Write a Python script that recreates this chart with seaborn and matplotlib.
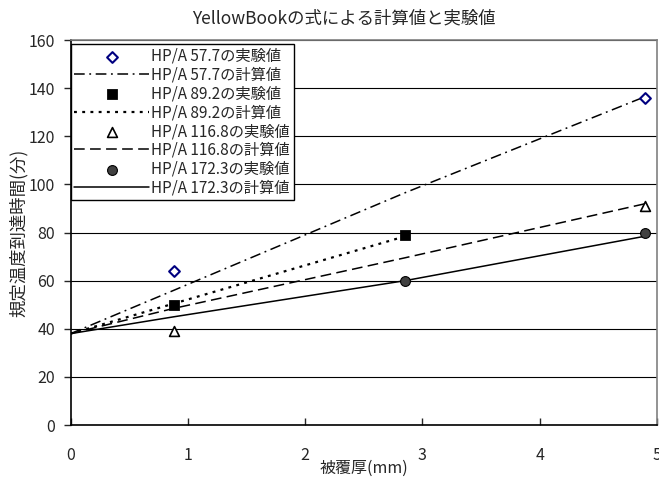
import matplotlib
matplotlib.use("Agg")
import matplotlib.pyplot as plt
import seaborn as sns

# measured values (thickness mm, minutes)
x_calc = [0, 0.88, 2.85, 4.9]
x_calc_892 = [0, 0.88, 2.8]

exp_577_x = [0.88, 4.9]
exp_577_y = [64, 136]
calc_577_y = [38, 56, 96.5, 136.5]

exp_892_x = [0.88, 2.85]
exp_892_y = [50, 79]
calc_892_y = [38, 50.5, 77.7]

exp_1168_x = [0.88, 4.9]
exp_1168_y = [39, 91]
calc_1168_y = [38, 48.5, 69.5, 92]

exp_1723_x = [2.85, 4.9]
exp_1723_y = [60, 80]
calc_1723_y = [38, 45, 60, 78.5]

labels = ["HP/A 57.7", "HP/A 89.2", "HP/A 116.8", "HP/A 172.3"]

sns.set_style("white")
plt.rcParams['font.family'] = ['Noto Sans CJK JP', 'DejaVu Sans']

fig = plt.figure(figsize=(6.59, 4.82), dpi=100)
ax = fig.add_axes([0.107, 0.118, 0.89, 0.799])

# calculated lines
sns.lineplot(x=x_calc, y=calc_577_y, ax=ax, color='black', lw=1.1,
             linestyle=(0, (7, 3, 1.2, 3)), label=labels[0] + "の計算値")
sns.lineplot(x=x_calc_892, y=calc_892_y, ax=ax, color='black', lw=1.6,
             linestyle=(0, (1.3, 2.4)), label=labels[1] + "の計算値")
sns.lineplot(x=x_calc, y=calc_1168_y, ax=ax, color='black', lw=1.1,
             linestyle=(0, (7, 3.5)), label=labels[2] + "の計算値")
sns.lineplot(x=x_calc, y=calc_1723_y, ax=ax, color='black', lw=1.1,
             linestyle='-', label=labels[3] + "の計算値")

# experimental points
sns.scatterplot(x=exp_577_x, y=exp_577_y, ax=ax, marker='D', s=30,
                facecolor='white', edgecolor='#000080', linewidth=1.5,
                label=labels[0] + "の実験値", zorder=5)
sns.scatterplot(x=exp_892_x, y=exp_892_y, ax=ax, marker='s', s=50,
                color='black', edgecolor='black',
                label=labels[1] + "の実験値", zorder=5)
sns.scatterplot(x=exp_1168_x, y=exp_1168_y, ax=ax, marker='^', s=50,
                facecolor='white', edgecolor='black', linewidth=1.2,
                label=labels[2] + "の実験値", zorder=5)
sns.scatterplot(x=exp_1723_x, y=exp_1723_y, ax=ax, marker='o', s=50,
                color='#404040', edgecolor='black', linewidth=0.8,
                label=labels[3] + "の実験値", zorder=5)

ax.set_xlim(0, 5)
ax.set_ylim(0, 160)
ax.set_xticks([0, 1, 2, 3, 4, 5])
ax.set_yticks(range(0, 161, 20))
ax.yaxis.grid(True, color='black', lw=0.8)
ax.set_axisbelow(True)

ax.tick_params(axis='y', direction='out', length=5, width=1, pad=6, labelsize=11.5, left=True)
ax.tick_params(axis='x', direction='in', length=5, width=1, pad=16, labelsize=11.5, bottom=True)

for side in ['left', 'bottom']:
    ax.spines[side].set_color('black')
    ax.spines[side].set_linewidth(1.2)
for side in ['top', 'right']:
    ax.spines[side].set_color('#808080')
    ax.spines[side].set_linewidth(1.2)

ax.set_xlabel("")
ax.set_ylabel("規定温度到達時間(分)", fontsize=12.5, labelpad=1)
fig.text(0.552, 0.028, "被覆厚(mm)", ha='center', va='center', fontsize=11.5)
fig.text(0.522, 0.962, "YellowBookの式による計算値と実験値", ha='center', va='center', fontsize=12.5)

handles, lbls = ax.get_legend_handles_labels()
lookup = dict(zip(lbls, handles))
order = []
for name in labels:
    order.append(name + "の実験値")
    order.append(name + "の計算値")
leg = ax.legend([lookup[o] for o in order], order, loc='upper left',
                bbox_to_anchor=(0.0, 0.99), borderaxespad=0, fontsize=11,
                frameon=True, fancybox=False, edgecolor='black', framealpha=1,
                handlelength=4.9, handletextpad=0.15, labelspacing=0.12,
                borderpad=0.25)
leg.get_frame().set_linewidth(1.0)

fig.savefig("out.png", dpi=100)
